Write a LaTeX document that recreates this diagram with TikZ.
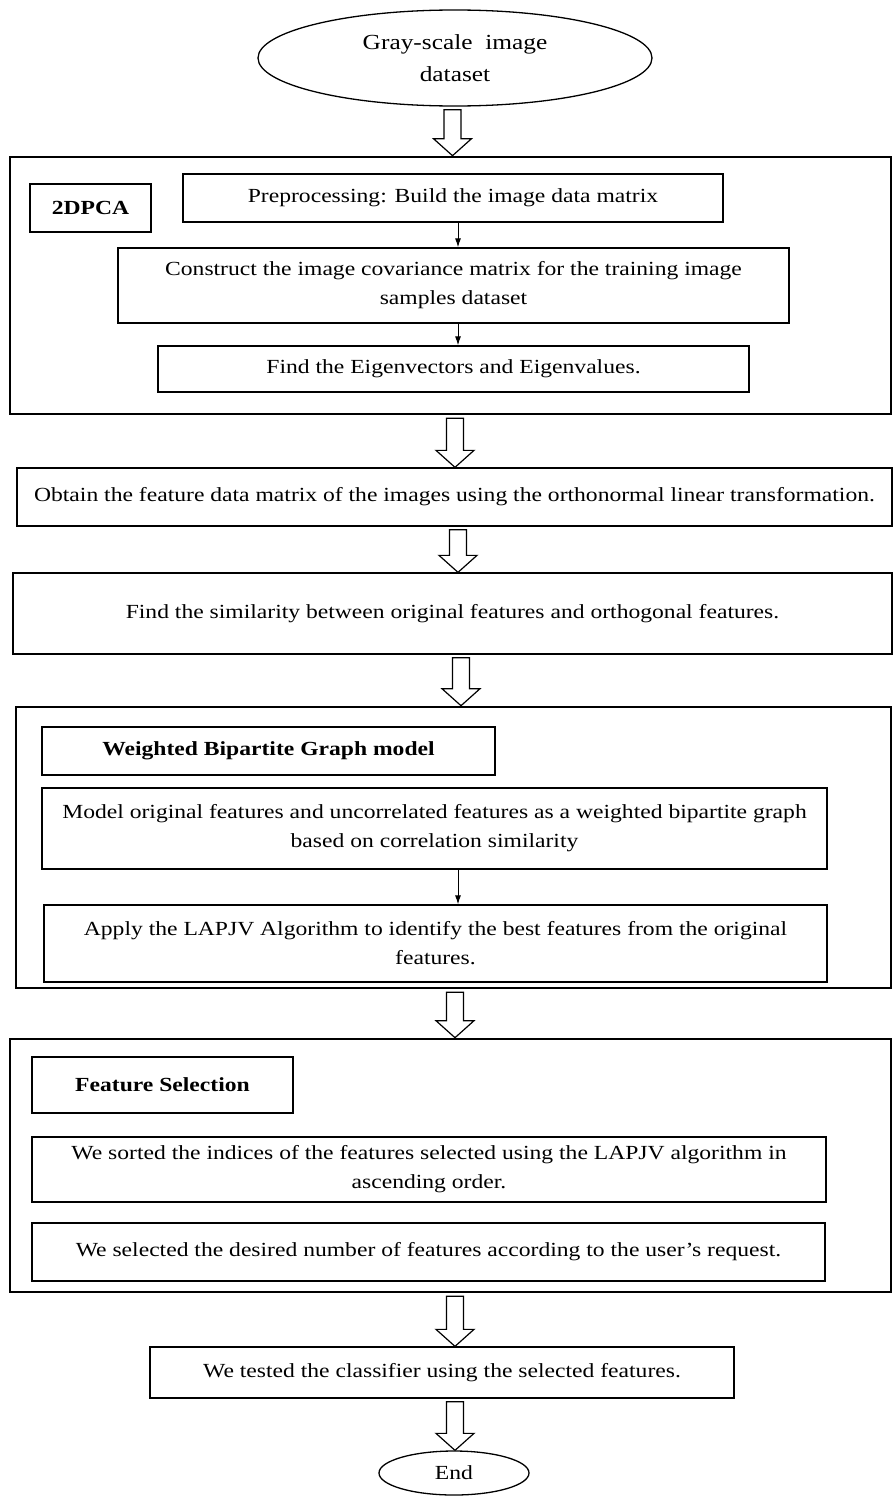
\documentclass[tikz,border=0pt]{standalone}
\usepackage{fontspec}
\setmainfont{Liberation Serif}[FakeStretch=1.18]
\usetikzlibrary{shapes.geometric,arrows.meta,calc}
\newcommand{\blockarrow}[3]{%
  \path (#2.south -| #1) coordinate (bas) (#3.north -| #1) coordinate (bae);
  \draw[hollow] let \p1=(bas), \p2=(bae) in
    ({\x1-8.5pt},{\y1-3pt}) -- ({\x1-8.5pt},{\y2+17pt}) -- ({\x1-19pt},{\y2+17pt}) -- (\x1,\y2)
    -- ({\x1+19pt},{\y2+17pt}) -- ({\x1+8.5pt},{\y2+17pt}) -- ({\x1+8.5pt},{\y1-3pt}) -- cycle;
}
\begin{document}
\begin{tikzpicture}[x=1pt,y=-1pt,
  txt/.style={font=\fontsize{20}{29}\selectfont, align=center, inner sep=0pt},
  box/.style={txt, draw, line width=1.3pt, rectangle},
  outer/.style={draw, line width=2.6pt, rectangle, inner sep=0pt},
  lbl/.style={box, font=\fontsize{20}{29}\selectfont\bfseries},
  oval/.style={txt, draw, line width=1.3pt, ellipse},
  hollow/.style={draw, fill=white, line width=1.2pt, line join=miter},
  thinarrow/.style={line width=1pt, -{Latex[length=9pt,width=6pt]}}
]
\useasboundingbox (0,0) rectangle (893,1496);
\fill[white] (0,0) rectangle (893,1496);

% column coordinates
\coordinate (ax) at (458,0);
\coordinate (c1) at (452.5,0);
\coordinate (c2) at (455,0);
\coordinate (c3) at (458,0);
\coordinate (c4) at (461,0);

% start
\node[oval, minimum width=394pt, minimum height=96pt, font=\fontsize{21.5}{32}\selectfont] (top) at (455,58) {Gray-scale\ \ image\\dataset};

% 2DPCA group
\node[outer, minimum width=881pt, minimum height=257pt] (g1) at (450.5,285.5) {};
\node[lbl, minimum width=121pt, minimum height=48pt] (l1) at (90.5,208) {2DPCA};
\node[box, minimum width=540pt, minimum height=48pt] (pre) at (453,198) {Preprocessing: Build the image data matrix};
\node[box, minimum width=671pt, minimum height=75pt] (cov) at (453.5,285.5) {Construct the image covariance matrix for the training image\\samples dataset};
\node[box, minimum width=591pt, minimum height=46pt] (eig) at (453.5,369) {Find the Eigenvectors and Eigenvalues.};
\draw[thinarrow] (pre.south -| ax) -- (cov.north -| ax);
\draw[thinarrow] (cov.south -| ax) -- (eig.north -| ax);

\node[box, minimum width=875pt, minimum height=58pt] (obt) at (454.5,497) {Obtain the feature data matrix of the images using the orthonormal linear transformation.};
\node[box, minimum width=879pt, minimum height=81pt] (sim) at (452.5,613.5) {Find the similarity between original features and orthogonal features.};

% WBG group
\node[outer, minimum width=875pt, minimum height=281pt] (g2) at (453.5,847.5) {};
\node[lbl, minimum width=453pt, minimum height=48pt] (l2) at (268.5,751) {Weighted Bipartite Graph model};
\node[box, minimum width=785pt, minimum height=81pt] (model) at (434.5,828.5) {Model original features and uncorrelated features as a weighted bipartite graph\\based on correlation similarity};
\node[box, minimum width=783pt, minimum height=77pt] (apply) at (435.5,943.5) {Apply the LAPJV Algorithm to identify the best features from the original\\features.};
\draw[thinarrow] (model.south -| ax) -- (apply.north -| ax);

% Feature selection group
\node[outer, minimum width=881pt, minimum height=253pt] (g3) at (450.5,1165.5) {};
\node[lbl, minimum width=261pt, minimum height=56pt] (l3) at (162.5,1085) {Feature Selection};
\node[box, minimum width=794pt, minimum height=65pt] (sort) at (429,1169.5) {We sorted the indices of the features selected using the LAPJV algorithm in\\ascending order.};
\node[box, minimum width=793pt, minimum height=58pt] (sel) at (428.5,1252) {We selected the desired number of features according to the user's request.};

\node[box, minimum width=584pt, minimum height=51pt] (test) at (442,1372.5) {We tested the classifier using the selected features.};
\node[oval, minimum width=150pt, minimum height=44pt] (end) at (454,1473) {End};

% block arrows
\blockarrow{c1}{top}{g1}
\blockarrow{c2}{g1}{obt}
\blockarrow{c3}{obt}{sim}
\blockarrow{c4}{sim}{g2}
\blockarrow{c2}{g2}{g3}
\blockarrow{c2}{g3}{test}
\blockarrow{c2}{test}{end}
\end{tikzpicture}
\end{document}
